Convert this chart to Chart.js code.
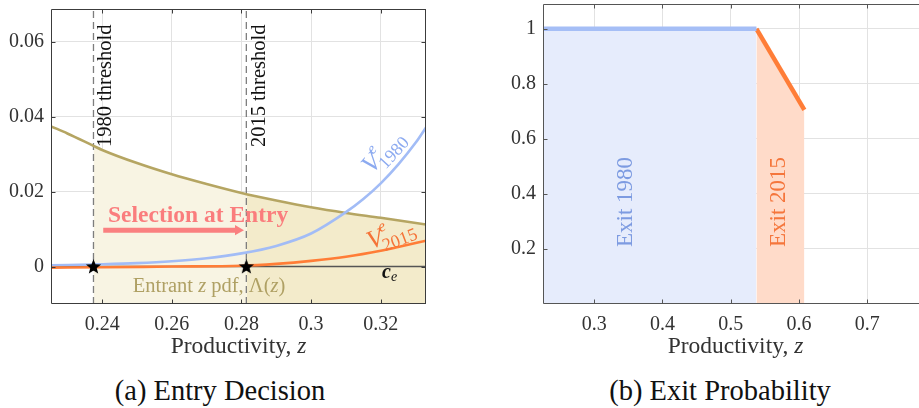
<!DOCTYPE html>
<html><head><meta charset="utf-8">
<script src="https://cdn.jsdelivr.net/npm/chart.js@4"></script>
<style>
html,body{margin:0;padding:0;background:#fff;overflow:hidden;width:919px;height:408px;position:relative}
#a{position:absolute;left:0;top:0}
#b{position:absolute;left:470px;top:0}
.cap{position:absolute;top:375px;font:28.5px 'Liberation Serif','Times New Roman',serif;line-height:32px;color:#111;white-space:nowrap;transform:translateX(-50%)}
</style></head><body>
<canvas id="a" width="440" height="365"></canvas>
<canvas id="b" width="449" height="365"></canvas>
<div class="cap" style="left:220px">(a) Entry Decision</div>
<div class="cap" style="left:720px">(b) Exit Probability</div>
<script>
// ---------- Panel (a) data ----------
const pdfZ   = [0.2253,0.23,0.2375,0.24,0.25,0.26,0.27,0.28,0.2814,0.29,0.30,0.31,0.32,0.333];
const pdfY   = [0.0374,0.0355,0.0322,0.0311,0.0276,0.0246,0.0220,0.0196,0.0193,0.0176,0.0158,0.0143,0.0130,0.0112];
const v1980Z = [0.2253,0.24,0.25,0.26,0.27,0.28,0.29,0.30,0.31,0.315,0.32,0.325,0.33,0.333];
const v1980Y = [0.0003,0.0006,0.0009,0.0014,0.0022,0.0035,0.0055,0.0088,0.0145,0.0180,0.0222,0.0272,0.0330,0.0371];
const v2015Z = [0.2253,0.24,0.26,0.28,0.29,0.30,0.31,0.32,0.325,0.333];
const v2015Y = [-0.0003,-0.0002,0,0.0002,0.0007,0.0015,0.0026,0.0042,0.0052,0.0069];
const thresholds = [0.2375, 0.2814];
const entryCost = 0;
const arrowZ = [0.2403, 0.2790];
const arrowY = 0.0097;
const xRangeA = [0.2253, 0.333];
const yRangeA = [-0.01, 0.0687];
const xTicksA = [0.24,0.26,0.28,0.30,0.32];
const xLabelsA = ['0.24','0.26','0.28','0.3','0.32'];
const yTicksA = [0,0.02,0.04,0.06];
const yLabelsA = ['0','0.02','0.04','0.06'];

// ---------- Panel (b) data ----------
const exit1980Z = [0.225, 0.5376];
const exit1980P = [1, 1];
const exit2015Z = [0.5376, 0.6078];
const exit2015P = [1, 0.705];
const xRangeB = [0.225, 0.7757];
const yRangeB = [0, 1.09];
const xTicksB = [0.3,0.4,0.5,0.6,0.7];
const xLabelsB = ['0.3','0.4','0.5','0.6','0.7'];
const yTicksB = [0.2,0.4,0.6,0.8,1];
const yLabelsB = ['0.2','0.4','0.6','0.8','1'];

const SERIF = "'Liberation Serif','Times New Roman',serif";
const pts = (xs, ys) => xs.map((x,i)=>({x, y: ys[i]}));
const sub = (xs, ys, lo, hi) => pts(xs, ys).filter(p => p.x >= lo - 1e-9 && p.x <= hi + 1e-9);

// star point image
const star = document.createElement('canvas');
star.width = 17; star.height = 17;
(() => {
  const g = star.getContext('2d');
  g.fillStyle = '#000';
  g.beginPath();
  for (let i = 0; i < 10; i++) {
    const r = i % 2 === 0 ? 8 : 3.4;
    const a = -Math.PI/2 + i*Math.PI/5;
    const px = 8.5 + r*Math.cos(a), py = 9 + r*Math.sin(a);
    i === 0 ? g.moveTo(px,py) : g.lineTo(px,py);
  }
  g.closePath(); g.fill();
})();

function rich(ctx, parts, x, y, align) {
  let w = 0;
  parts.forEach(p => { ctx.font = p.f; w += ctx.measureText(p.t).width; });
  let cx = align === 'center' ? x - w/2 : x;
  parts.forEach(p => {
    ctx.font = p.f;
    ctx.fillText(p.t, cx, y + (p.dy || 0));
    cx += ctx.measureText(p.t).width;
  });
}

function framePlugin(sides, color) {
  return {
    id: 'frame',
    afterDatasetsDraw(c) {
      const {ctx, chartArea: a, scales} = c;
      ctx.save();
      ctx.strokeStyle = color; ctx.lineWidth = 1;
      ctx.beginPath();
      const L = Math.round(a.left)+0.5, R = Math.round(a.right)-0.5, T = Math.round(a.top)+0.5, B = Math.round(a.bottom)-0.5;
      if (sides.includes('l')) { ctx.moveTo(L, T); ctx.lineTo(L, B); }
      if (sides.includes('b')) { ctx.moveTo(L, B); ctx.lineTo(a.right, B); }
      if (sides.includes('t')) { ctx.moveTo(L, T); ctx.lineTo(a.right, T); }
      if (sides.includes('r')) { ctx.moveTo(R, T); ctx.lineTo(R, B); }
      const tl = 4;
      scales.x.ticks.forEach(t => {
        const p = Math.round(scales.x.getPixelForValue(t.value)) + 0.5;
        ctx.moveTo(p, B); ctx.lineTo(p, B - tl);
        if (sides.includes('t')) { ctx.moveTo(p, T); ctx.lineTo(p, T + tl); }
      });
      scales.y.ticks.forEach(t => {
        const p = Math.round(scales.y.getPixelForValue(t.value)) + 0.5;
        ctx.moveTo(L, p); ctx.lineTo(L + tl, p);
        if (sides.includes('r')) { ctx.moveTo(R, p); ctx.lineTo(R - tl, p); }
      });
      ctx.stroke();
      ctx.restore();
    }
  };
}

function scalesCfg(xr, yr, xt, xl, yt, yl, yWidth) {
  const tickFont = {family: SERIF, size: 20};
  const noPad = s => { s.paddingTop = 0; s.paddingBottom = 0; s.paddingLeft = 0; s.paddingRight = 0; };
  return {
    x: {
      type: 'linear', min: xr[0], max: xr[1],
      afterBuildTicks: s => { s.ticks = xt.map(v => ({value: v})); },
      afterFit: s => { s.height = 61; noPad(s); },
      grid: {color: '#e2e2e2', lineWidth: 1, drawTicks: false},
      border: {display: false},
      ticks: {padding: 9, color: '#333', font: tickFont, autoSkip: false, maxRotation: 0, callback: (v, i) => xl[i]}
    },
    y: {
      type: 'linear', min: yr[0], max: yr[1],
      afterBuildTicks: s => { s.ticks = yt.map(v => ({value: v})); },
      afterFit: s => { s.width = yWidth; noPad(s); },
      grid: {color: '#e2e2e2', lineWidth: 1, drawTicks: false},
      border: {display: false},
      ticks: {padding: 7, color: '#333', font: tickFont, autoSkip: false, callback: (v, i) => yl[i]}
    }
  };
}

const common = {
  responsive: false, animation: false, devicePixelRatio: 1,
  plugins: {legend: {display: false}, tooltip: {enabled: false}},
  elements: {point: {radius: 0}},
  parsing: false
};

// ---------- Panel (a) ----------
const textA = {
  id: 'textA',
  afterDatasetsDraw(c) {
    const {ctx, scales} = c;
    ctx.save();
    ctx.textBaseline = 'middle';
    // threshold labels
    ctx.fillStyle = '#111';
    ctx.font = `20.5px ${SERIF}`;
    ctx.textAlign = 'left';
    [['1980 threshold', 12], ['2015 threshold', 13.5]].forEach(([t, off], i) => {
      const x = scales.x.getPixelForValue(thresholds[i]) + off;
      ctx.save(); ctx.translate(x, 147); ctx.rotate(-Math.PI/2);
      ctx.fillText(t, 0, 0); ctx.restore();
    });
    // selection at entry
    ctx.fillStyle = 'rgb(250,125,125)';
    ctx.textAlign = 'left';
    ctx.font = `bold 23.5px ${SERIF}`;
    ctx.fillText('Selection at Entry', 108, 216);
    // entrant pdf
    ctx.fillStyle = 'rgb(175,160,100)';
    rich(ctx, [
      {t: 'Entrant ', f: `20.5px ${SERIF}`},
      {t: 'z', f: `italic 20.5px ${SERIF}`},
      {t: ' pdf, Λ(', f: `20.5px ${SERIF}`},
      {t: 'z', f: `italic 20.5px ${SERIF}`},
      {t: ')', f: `20.5px ${SERIF}`}
    ], 209, 287, 'center');
    // c_e
    ctx.fillStyle = '#111';
    rich(ctx, [
      {t: 'c', f: `italic bold 20px ${SERIF}`},
      {t: 'e', f: `italic 14px ${SERIF}`, dy: 4}
    ], 382, 273, 'left');
    // V labels
    const vlab = (col, x, y, ang, year) => {
      ctx.save(); ctx.translate(x, y); ctx.rotate(ang);
      ctx.fillStyle = col;
      ctx.font = `italic 26px ${SERIF}`;
      ctx.fillText('V', 0, 0);
      const w = ctx.measureText('V').width;
      ctx.font = `italic 16px ${SERIF}`;
      ctx.fillText('e', w - 1, -10);
      ctx.font = `18px ${SERIF}`;
      ctx.fillText(year, w - 3, 9);
      ctx.restore();
    };
    vlab('rgb(140,170,240)', 367, 170, -0.83, '1980');
    vlab('rgb(245,115,55)', 368, 243, -0.36, '2015');
    // axis title
    ctx.fillStyle = '#333';
    const a = c.chartArea;
    rich(ctx, [
      {t: 'Productivity, ', f: `23.5px ${SERIF}`},
      {t: 'z', f: `italic 23.5px ${SERIF}`}
    ], (a.left + a.right)/2, 347, 'center');
    ctx.restore();
  }
};

new Chart(document.getElementById('a'), {
  type: 'line',
  data: {datasets: [
    {data: sub(pdfZ, pdfY, thresholds[0], thresholds[1]), fill: 'start', backgroundColor: 'rgb(248,244,227)', borderWidth: 0, order: 10, tension: 0.3},
    {data: sub(pdfZ, pdfY, thresholds[1], xRangeA[1]), fill: 'start', backgroundColor: 'rgb(243,235,203)', borderWidth: 0, order: 9, tension: 0.3},
    {data: [{x: thresholds[0], y: yRangeA[0]}, {x: thresholds[0], y: yRangeA[1]}], borderColor: 'rgb(125,125,125)', borderWidth: 1.3, borderDash: [7,4], order: 6},
    {data: [{x: thresholds[1], y: yRangeA[0]}, {x: thresholds[1], y: yRangeA[1]}], borderColor: 'rgb(125,125,125)', borderWidth: 1.3, borderDash: [7,4], order: 6},
    {data: [{x: xRangeA[0], y: entryCost}, {x: xRangeA[1], y: entryCost}], borderColor: 'rgb(85,85,85)', borderWidth: 1.5, order: 5},
    {data: pts(pdfZ, pdfY), borderColor: 'rgb(181,165,98)', borderWidth: 2.6, cubicInterpolationMode: 'monotone', order: 4},
    {data: pts(v1980Z, v1980Y), borderColor: 'rgb(162,188,246)', borderWidth: 2.6, cubicInterpolationMode: 'monotone', order: 3},
    {data: pts(v2015Z, v2015Y), borderColor: 'rgb(255,125,55)', borderWidth: 2.6, cubicInterpolationMode: 'monotone', order: 2},
    {data: [{x: arrowZ[0], y: arrowY}, {x: arrowZ[1], y: arrowY}], borderColor: 'rgb(250,128,128)', backgroundColor: 'rgb(250,128,128)', borderWidth: 5, pointRadius: [0, 6], pointStyle: 'triangle', rotation: 90, pointBorderWidth: 0, order: 1},
    {data: thresholds.map(z => ({x: z, y: entryCost})), showLine: false, pointStyle: star, pointRadius: 8, order: 0}
  ]},
  options: Object.assign({}, common, {
    layout: {padding: {top: 5, right: 14, left: 0, bottom: 0}},
    scales: scalesCfg(xRangeA, yRangeA, xTicksA, xLabelsA, yTicksA, yLabelsA, 51)
  }),
  plugins: [framePlugin('lbtr', '#3c3c3c'), textA]
});

// ---------- Panel (b) ----------
const textB = {
  id: 'textB',
  afterDatasetsDraw(c) {
    const {ctx, scales} = c;
    ctx.save();
    ctx.textBaseline = 'middle';
    ctx.textAlign = 'left';
    ctx.font = `23px ${SERIF}`;
    [['Exit 1980', 'rgb(125,155,225)', 156], ['Exit 2015', 'rgb(245,118,60)', 309]].forEach(([t, col, x]) => {
      ctx.save(); ctx.translate(x, 247); ctx.rotate(-Math.PI/2);
      ctx.fillStyle = col; ctx.fillText(t, 0, 0); ctx.restore();
    });
    ctx.fillStyle = '#333';
    rich(ctx, [
      {t: 'Productivity, ', f: `23.5px ${SERIF}`},
      {t: 'z', f: `italic 23.5px ${SERIF}`}
    ], 265.5, 347, 'center');
    ctx.restore();
  }
};

new Chart(document.getElementById('b'), {
  type: 'line',
  data: {datasets: [
    {data: pts(exit1980Z, exit1980P), fill: 'origin', backgroundColor: 'rgb(230,236,252)', borderWidth: 0, order: 10},
    {data: pts(exit2015Z, exit2015P), fill: 'origin', backgroundColor: 'rgb(255,219,201)', borderWidth: 0, order: 9},
    {data: pts(exit2015Z, exit2015P), borderColor: 'rgb(255,125,55)', borderWidth: 4.5, order: 2},
    {data: pts(exit1980Z, exit1980P), borderColor: 'rgb(165,190,246)', borderWidth: 4.5, order: 1}
  ]},
  options: Object.assign({}, common, {
    layout: {padding: {top: 4, right: 0, left: 0, bottom: 0}},
    scales: scalesCfg(xRangeB, yRangeB, xTicksB, xLabelsB, yTicksB, yLabelsB, 73)
  }),
  plugins: [framePlugin('lbt', '#555'), textB]
});
</script>
</body></html>
